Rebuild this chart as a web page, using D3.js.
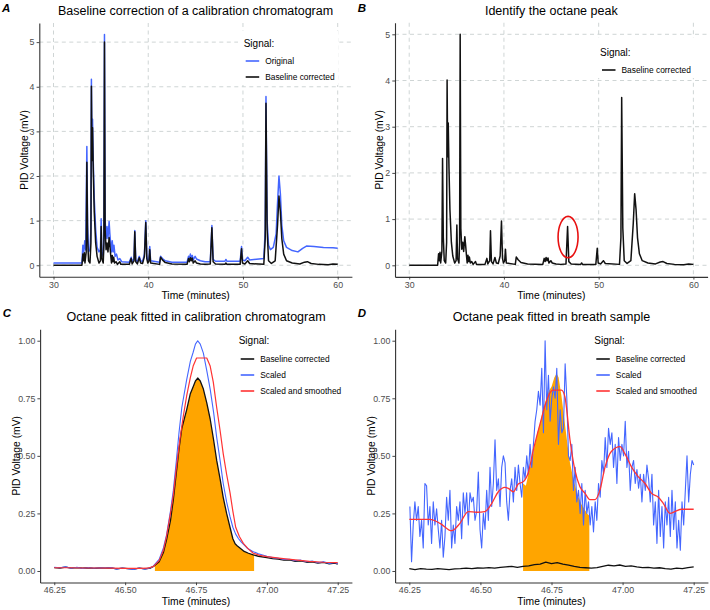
<!DOCTYPE html>
<html><head><meta charset="utf-8">
<script src="https://cdn.jsdelivr.net/npm/d3@7/dist/d3.min.js"></script>
<style>body{margin:0;background:#fff}svg{display:block}</style>
</head><body><svg id="c" width="710" height="610"></svg>
<script>
// ---------------- DATA ----------------
// Panels A & B: full chromatogram (time in minutes, PID voltage in mV)
const chromCorrected = [[30.0,0.0],[33.0,0.0],[33.1,0.25],[33.18,0.1],[33.25,0.28],[33.32,0.05],[33.45,0.3],[33.52,2.31],[33.6,0.6],[33.7,0.1],[33.85,0.05],[33.95,0.5],[34.0,4.01],[34.06,2.35],[34.12,3.08],[34.2,2.1],[34.3,1.2],[34.45,0.5],[34.6,0.2],[34.8,0.05],[34.95,0.1],[35.03,0.87],[35.1,0.15],[35.25,0.05],[35.32,0.5],[35.38,5.0],[35.45,0.8],[35.55,0.35],[35.65,0.5],[35.75,0.3],[35.87,0.62],[35.95,0.45],[36.05,0.2],[36.12,0.05],[36.2,0.22],[36.28,0.08],[36.35,0.18],[36.45,0.05],[36.6,0.08],[36.75,0.02],[37.0,0.08],[37.1,0.02],[38.0,0.02],[38.2,0.15],[38.3,0.03],[38.5,0.1],[38.58,0.75],[38.68,0.08],[38.85,0.03],[39.05,0.17],[39.2,0.05],[39.4,0.04],[39.6,0.2],[39.74,0.96],[39.85,0.15],[39.95,0.05],[40.08,0.1],[40.16,0.35],[40.25,0.05],[41.2,0.02],[41.3,0.18],[41.5,0.12],[41.8,0.06],[42.5,0.03],[44.1,0.02],[44.25,0.15],[44.35,0.08],[44.45,0.17],[44.55,0.1],[44.65,0.16],[44.75,0.05],[44.95,0.1],[45.1,0.05],[45.5,0.03],[46.0,0.02],[46.55,0.03],[46.72,0.84],[46.85,0.08],[47.1,0.03],[48.1,0.02],[48.2,0.05],[48.3,0.02],[49.7,0.02],[49.85,0.37],[49.95,0.05],[50.2,0.03],[50.5,0.1],[50.7,0.04],[52.2,0.02],[52.35,0.6],[52.43,3.63],[52.55,0.8],[52.7,0.1],[53.0,0.04],[53.4,0.1],[53.65,0.9],[53.8,1.55],[53.95,1.2],[54.1,0.6],[54.3,0.25],[54.6,0.1],[55.2,0.05],[56.0,0.03],[56.5,0.07],[56.8,0.08],[57.2,0.04],[58.0,0.02],[59.0,0.01],[59.5,0.03],[60.0,0.02]];
const chromOriginal = [[30.0,0.05],[33.0,0.05],[33.1,0.45],[33.2,0.3],[33.3,0.55],[33.4,0.35],[33.52,2.66],[33.6,0.9],[33.7,0.3],[33.85,0.35],[33.95,0.8],[34.0,4.17],[34.06,2.6],[34.12,3.27],[34.2,2.3],[34.3,1.5],[34.45,0.8],[34.6,0.4],[34.8,0.3],[34.95,0.35],[35.03,1.04],[35.1,0.3],[35.25,0.2],[35.32,0.6],[35.38,5.17],[35.45,1.0],[35.55,0.6],[35.65,0.87],[35.75,0.6],[35.87,0.98],[35.95,0.7],[36.05,0.45],[36.12,0.3],[36.2,0.55],[36.3,0.3],[36.38,0.45],[36.5,0.2],[36.65,0.25],[36.8,0.12],[37.0,0.15],[37.2,0.08],[38.0,0.07],[38.2,0.18],[38.3,0.08],[38.5,0.15],[38.58,0.78],[38.68,0.12],[38.85,0.08],[39.05,0.2],[39.2,0.1],[39.4,0.08],[39.6,0.25],[39.74,1.0],[39.85,0.2],[39.95,0.1],[40.08,0.15],[40.16,0.42],[40.25,0.1],[41.2,0.07],[41.3,0.2],[41.5,0.15],[41.8,0.1],[42.5,0.07],[44.1,0.07],[44.25,0.2],[44.35,0.14],[44.45,0.25],[44.55,0.16],[44.65,0.22],[44.75,0.12],[44.95,0.2],[45.1,0.14],[45.5,0.1],[46.0,0.08],[46.55,0.08],[46.72,0.89],[46.85,0.13],[47.1,0.09],[48.1,0.09],[48.2,0.13],[48.3,0.09],[49.7,0.09],[49.85,0.42],[49.95,0.12],[50.2,0.1],[50.5,0.18],[50.7,0.12],[52.2,0.15],[52.35,0.8],[52.43,3.78],[52.55,1.0],[52.7,0.45],[52.9,0.35],[53.2,0.4],[53.5,0.7],[53.65,1.4],[53.8,2.0],[53.95,1.6],[54.1,0.9],[54.3,0.55],[54.6,0.4],[55.2,0.33],[55.8,0.3],[56.3,0.38],[56.7,0.43],[57.5,0.42],[58.5,0.4],[59.5,0.39],[60.0,0.38]];
const octaneMark = [46.77, 0.61];

// Panel C: octane peak in calibration chromatogram
const calCorrected = [[46.25,0.015],[46.27,0.013],[46.29,0.017],[46.31,0.012],[46.33,0.015],[46.35,0.012],[46.37,0.014],[46.39,0.011],[46.41,0.013],[46.43,0.012],[46.45,0.014],[46.47,0.009],[46.49,0.012],[46.51,0.01],[46.53,0.008],[46.55,0.012],[46.57,0.009],[46.59,0.013],[46.6,0.02],[46.62,0.04],[46.635,0.08],[46.646,0.135],[46.66,0.22],[46.67,0.31],[46.68,0.42],[46.69,0.53],[46.7,0.62],[46.717,0.7],[46.73,0.77],[46.74,0.8],[46.748,0.825],[46.756,0.838],[46.765,0.825],[46.776,0.79],[46.788,0.73],[46.8,0.66],[46.812,0.57],[46.823,0.48],[46.835,0.4],[46.846,0.32],[46.858,0.25],[46.87,0.19],[46.88,0.14],[46.888,0.118],[46.895,0.11],[46.905,0.1],[46.92,0.085],[46.935,0.077],[46.952,0.07],[46.97,0.064],[47.0,0.058],[47.02,0.054],[47.04,0.052],[47.06,0.047],[47.08,0.048],[47.1,0.042],[47.12,0.044],[47.14,0.038],[47.16,0.04],[47.18,0.034],[47.2,0.037],[47.22,0.031],[47.24,0.034],[47.25,0.03]];
const calScaled = [[46.25,0.016],[46.27,0.014],[46.29,0.018],[46.31,0.012],[46.33,0.016],[46.35,0.011],[46.37,0.015],[46.39,0.012],[46.41,0.014],[46.43,0.013],[46.45,0.015],[46.47,0.008],[46.49,0.013],[46.51,0.01],[46.53,0.007],[46.55,0.013],[46.57,0.008],[46.59,0.014],[46.6,0.022],[46.62,0.05],[46.635,0.1],[46.646,0.156],[46.66,0.26],[46.67,0.35],[46.68,0.47],[46.69,0.6],[46.7,0.71],[46.717,0.83],[46.73,0.91],[46.74,0.95],[46.748,0.985],[46.756,1.0],[46.765,0.985],[46.776,0.946],[46.788,0.87],[46.8,0.79],[46.812,0.69],[46.823,0.58],[46.835,0.48],[46.846,0.38],[46.858,0.3],[46.87,0.236],[46.88,0.19],[46.89,0.16],[46.9,0.14],[46.91,0.125],[46.93,0.1],[46.95,0.085],[46.97,0.075],[47.0,0.064],[47.02,0.058],[47.04,0.055],[47.06,0.05],[47.08,0.051],[47.1,0.045],[47.12,0.047],[47.14,0.04],[47.16,0.043],[47.18,0.036],[47.2,0.04],[47.22,0.033],[47.24,0.037],[47.25,0.032]];
const calSmoothed = [[46.25,0.014],[46.3,0.014],[46.35,0.013],[46.4,0.013],[46.45,0.012],[46.5,0.011],[46.55,0.011],[46.58,0.012],[46.6,0.02],[46.62,0.045],[46.635,0.09],[46.646,0.15],[46.66,0.25],[46.67,0.33],[46.68,0.44],[46.693,0.57],[46.705,0.67],[46.717,0.76],[46.73,0.84],[46.74,0.89],[46.752,0.925],[46.788,0.925],[46.8,0.89],[46.811,0.82],[46.823,0.71],[46.835,0.61],[46.846,0.51],[46.858,0.42],[46.87,0.34],[46.88,0.26],[46.89,0.19],[46.903,0.15],[46.917,0.12],[46.935,0.095],[46.952,0.077],[46.975,0.068],[47.0,0.062],[47.05,0.055],[47.1,0.048],[47.15,0.042],[47.2,0.038],[47.25,0.036]];
const calPeakWindow = [46.605, 46.955];

// Panel D: octane peak in breath sample
const breathStart = 46.252, breathEnd = 47.25;
const breathScaled = [0.28,0.04,0.2,0.3,0.22,0.28,0.15,0.22,0.1,0.38,0.37,0.2,0.28,0.12,0.3,0.2,0.27,0.18,0.1,0.22,0.06,0.15,0.32,0.22,0.35,0.1,0.2,0.12,0.28,0.22,0.3,0.14,0.34,0.25,0.34,0.2,0.34,0.3,0.32,0.22,0.26,0.43,0.18,0.1,0.25,0.18,0.35,0.22,0.45,0.28,0.38,0.57,0.35,0.4,0.28,0.45,0.5,0.47,0.3,0.22,0.35,0.4,0.3,0.45,0.35,0.46,0.38,0.32,0.45,0.4,0.5,0.42,0.55,0.45,0.55,0.65,0.7,0.78,0.72,0.88,0.6,
  1.0,0.7,0.85,0.65,0.75,0.8,0.75,0.88,0.55,0.7,0.6,0.62,0.9,0.75,0.5,0.48,0.55,0.35,0.45,0.3,0.35,0.25,0.38,0.2,0.35,0.25,0.3,0.2,0.28,0.17,0.3,0.22,0.38,0.32,0.48,0.42,0.58,0.45,0.62,0.55,0.6,0.45,0.55,0.38,0.58,0.48,0.55,0.5,0.65,0.45,0.52,0.35,0.45,0.48,0.38,0.44,0.36,0.42,0.3,0.42,0.35,0.46,0.4,0.3,0.42,0.2,0.3,0.12,0.35,0.15,0.28,0.1,0.3,0.2,0.32,0.15,0.35,0.18,0.3,0.1,0.22,0.09,0.3,0.2,0.35,0.5,0.3,0.42,0.48,0.46];
const breathCorrected = [0.01,0.006,0.01,0.008,0.007,0.01,0.008,0.006,0.009,0.01,0.012,0.01,0.013,0.012,0.015,0.012,0.016,0.018,0.02,0.016,0.02,0.022,0.028,0.03,0.038,0.032,0.036,0.03,0.025,0.02,0.016,0.014,0.012,0.015,0.02,0.025,0.022,0.026,0.02,0.022,0.018,0.015,0.016,0.012,0.014,0.01,0.008,0.012,0.01,0.015,0.018];
const breathSmoothed = [[46.25,0.224],[46.323,0.224],[46.358,0.207],[46.399,0.175],[46.428,0.207],[46.457,0.258],[46.487,0.255],[46.516,0.258],[46.54,0.294],[46.563,0.344],[46.586,0.363],[46.598,0.359],[46.616,0.344],[46.633,0.378],[46.651,0.388],[46.669,0.43],[46.686,0.525],[46.71,0.64],[46.733,0.74],[46.745,0.775],[46.755,0.785],[46.785,0.785],[46.797,0.757],[46.815,0.57],[46.832,0.44],[46.85,0.366],[46.868,0.337],[46.885,0.31],[46.903,0.31],[46.92,0.35],[46.938,0.45],[46.961,0.52],[46.991,0.54],[47.008,0.51],[47.032,0.45],[47.055,0.41],[47.079,0.38],[47.102,0.337],[47.126,0.32],[47.143,0.294],[47.167,0.25],[47.184,0.258],[47.208,0.268],[47.25,0.268]];
const breathPeakArea = [[46.65,0.38],[46.66,0.37],[46.67,0.43],[46.68,0.47],[46.69,0.54],[46.7,0.6],[46.71,0.64],[46.72,0.7],[46.73,0.74],[46.74,0.78],[46.75,0.8],[46.76,0.84],[46.768,0.858],[46.775,0.84],[46.785,0.76],[46.795,0.66],[46.805,0.56],[46.815,0.47],[46.825,0.41],[46.835,0.36],[46.845,0.32],[46.855,0.29],[46.865,0.27],[46.875,0.25],[46.883,0.24]];

// Ticks
const chromXTicks = [30,40,50,60];
const chromYTicks = [0,1,2,3,4,5];
const peakXTicks = [46.25,46.5,46.75,47.0,47.25];
const peakYTicks = [0,0.25,0.5,0.75,1.0];

// ---------------- DRAWING ----------------
const FONT = '"Liberation Sans", Arial, Helvetica, sans-serif';
const BLUE = '#4466ff', RED = '#ff3333', ORANGE = '#ffa500', BLACK = '#111';
const svg = d3.select('#c');

function panel(o){
  const x = d3.scaleLinear().domain(o.xd).range([o.l,o.r]);
  const y = d3.scaleLinear().domain(o.yd).range([o.b,o.t]);
  const g = svg.append('g');
  if(o.grid){
    g.selectAll(null).data(o.xt).enter().append('line')
      .attr('x1',d=>x(d)).attr('x2',d=>x(d)).attr('y1',o.t).attr('y2',o.b)
      .attr('stroke','#c9d0d0').attr('stroke-width',0.9).attr('stroke-dasharray','4,3.5');
    g.selectAll(null).data(o.yt).enter().append('line')
      .attr('y1',d=>y(d)).attr('y2',d=>y(d)).attr('x1',o.l).attr('x2',o.r)
      .attr('stroke','#c9d0d0').attr('stroke-width',0.9).attr('stroke-dasharray','4,3.5');
  }
  const layer = g.append('g');
  const ax = g.append('g').attr('transform',`translate(0,${o.b})`)
    .call(d3.axisBottom(x).tickValues(o.xt).tickFormat(o.xf).tickSize(2.7).tickSizeOuter(0).tickPadding(1.8));
  const ay = g.append('g').attr('transform',`translate(${o.l},0)`)
    .call(d3.axisLeft(y).tickValues(o.yt).tickFormat(o.yf).tickSize(2.7).tickSizeOuter(0).tickPadding(2.1));
  [ax,ay].forEach(a=>{
    a.select('.domain').attr('stroke','#333').attr('stroke-width',1.1);
    a.selectAll('.tick line').attr('stroke','#333').attr('stroke-width',0.9);
    a.selectAll('.tick text').attr('fill','#4d4d4d').style('font-size','8.8px').style('font-family',FONT);
  });
  const cx = (o.l+o.r)/2;
  g.append('text').attr('x',cx).attr('y',o.titleY).attr('text-anchor','middle')
    .style('font-family',FONT).style('font-size','12.5px').attr('fill','#000').text(o.title);
  g.append('text').attr('x',o.tagX).attr('y',o.titleY-3.3)
    .style('font-family',FONT).style('font-size','11.5px').style('font-weight','bold').style('font-style','italic').text(o.tag);
  g.append('text').attr('x',cx).attr('y',o.b+22).attr('text-anchor','middle')
    .style('font-family',FONT).style('font-size','10.3px').text('Time (minutes)');
  g.append('text').attr('transform',`translate(${o.ytX},${(o.t+o.b)/2}) rotate(-90)`).attr('text-anchor','middle')
    .style('font-family',FONT).style('font-size','10.3px').text('PID Voltage (mV)');
  return {x,y,layer,g};
}

function legend(g, o){
  if(o.box) g.append('rect').attr('x',o.box[0]).attr('y',o.box[1]).attr('width',o.box[2]).attr('height',o.box[3]).attr('fill','#fff');
  g.append('text').attr('x',o.x).attr('y',o.titleY+3.6).style('font-family',FONT).style('font-size','10px').text('Signal:');
  o.items.forEach((it,i)=>{
    const yy = o.y0 + i*o.dy;
    g.append('line').attr('x1',o.x+2).attr('x2',o.x+15.5).attr('y1',yy).attr('y2',yy)
      .attr('stroke',it.c).attr('stroke-width',1.6);
    g.append('text').attr('x',o.x+21.5).attr('y',yy+3).style('font-family',FONT).style('font-size','8.4px').text(it.t);
  });
}

const lineOf = (p, curve) => d3.line().x(d=>p.x(d[0])).y(d=>p.y(d[1])).curve(curve||d3.curveLinear);
function drawLine(p, data, color, w, curve){
  p.layer.append('path').datum(data).attr('d', lineOf(p,curve)).attr('fill','none')
    .attr('stroke',color).attr('stroke-width',w).attr('stroke-linejoin','round');
}

// ---- Panel A ----
const A = panel({l:39.3,r:351.9,t:23,b:276.8,xd:[28.5,61.5],yd:[-0.2585,5.4285],xt:chromXTicks,yt:chromYTicks,
  xf:d3.format('d'),yf:d3.format('d'),grid:true,title:'Baseline correction of a calibration chromatogram',titleY:15,tag:'A',tagX:2,ytX:27.5});
drawLine(A, chromOriginal, BLUE, 1.5);
drawLine(A, chromCorrected, BLACK, 1.5);
legend(A.g,{box:[238,31,100,54],x:243.7,titleY:43,y0:61,dy:16,items:[{c:BLUE,t:'Original'},{c:BLACK,t:'Baseline corrected'}]});

// ---- Panel B ----
const B = panel({l:395,r:707.6,t:22.75,b:276.85,xd:[28.5,61.5],yd:[-0.25,5.25],xt:chromXTicks,yt:chromYTicks,
  xf:d3.format('d'),yf:d3.format('d'),grid:true,title:'Identify the octane peak',titleY:15,tag:'B',tagX:357.7,ytX:383});
drawLine(B, chromCorrected, BLACK, 1.5);
B.layer.append('ellipse').attr('cx',B.x(octaneMark[0])).attr('cy',B.y(octaneMark[1])).attr('rx',10).attr('ry',20.7)
  .attr('fill','none').attr('stroke','#e81010').attr('stroke-width',1.6);
legend(B.g,{box:[594,38,104,40],x:600,titleY:52,y0:70,dy:16,items:[{c:BLACK,t:'Baseline corrected'}]});

// ---- Panel C ----
const f2 = d3.format('.2f');
const C = panel({l:40.1,r:351.9,t:329.2,b:582.5,xd:[46.2,47.3],yd:[-0.05,1.05],xt:peakXTicks,yt:peakYTicks,
  xf:f2,yf:f2,grid:false,title:'Octane peak fitted in calibration chromatogram',titleY:320.7,tag:'C',tagX:2.7,ytX:19.5});
function interp(series,t){
  for(let i=1;i<series.length;i++){
    const a=series[i-1], b=series[i];
    if(t>=a[0] && t<=b[0]) return a[1]+(b[1]-a[1])*(t-a[0])/(b[0]-a[0]);
  }
  return series[series.length-1][1];
}
const calArea = [[calPeakWindow[0], interp(calCorrected,calPeakWindow[0])]]
  .concat(calCorrected.filter(d=>d[0]>calPeakWindow[0] && d[0]<calPeakWindow[1]))
  .concat([[calPeakWindow[1], interp(calCorrected,calPeakWindow[1])]]);
C.layer.append('path').datum(calArea).attr('fill',ORANGE)
  .attr('d', d3.area().x(d=>C.x(d[0])).y0(C.y(0)).y1(d=>C.y(d[1])));
drawLine(C, calCorrected, BLACK, 1.3);
drawLine(C, calScaled, BLUE, 1.1);
drawLine(C, calSmoothed, RED, 1.2);
legend(C.g,{x:238.7,titleY:340.5,y0:359,dy:16,items:[{c:BLACK,t:'Baseline corrected'},{c:BLUE,t:'Scaled'},{c:RED,t:'Scaled and smoothed'}]});

// ---- Panel D ----
const D = panel({l:395.1,r:707.9,t:329.2,b:582.5,xd:[46.2,47.3],yd:[-0.05,1.05],xt:peakXTicks,yt:peakYTicks,
  xf:f2,yf:f2,grid:false,title:'Octane peak fitted in breath sample',titleY:320.7,tag:'D',tagX:357.7,ytX:374.5});
D.layer.append('path').datum(breathPeakArea).attr('fill',ORANGE)
  .attr('d', d3.area().x(d=>D.x(d[0])).y0(D.y(0)).y1(d=>D.y(d[1])));
const stepS = (breathEnd-breathStart)/(breathScaled.length-1);
const bScaled = breathScaled.map((v,i)=>[breathStart+i*stepS, v]);
const stepC = (47.25-46.25)/(breathCorrected.length-1);
const bCorr = breathCorrected.map((v,i)=>[46.25+i*stepC, v]);
drawLine(D, bCorr, BLACK, 1.3);
drawLine(D, bScaled, BLUE, 1.1);
drawLine(D, breathSmoothed, RED, 1.3, d3.curveMonotoneX);
legend(D.g,{x:594.3,titleY:340.5,y0:359,dy:16,items:[{c:BLACK,t:'Baseline corrected'},{c:BLUE,t:'Scaled'},{c:RED,t:'Scaled and smoothed'}]});
</script></body></html>
